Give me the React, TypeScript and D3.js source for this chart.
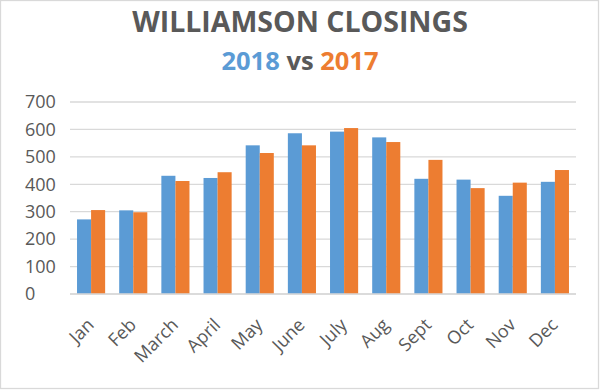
import React from "react";
import * as d3 from "d3";

const months = ["Jan", "Feb", "March", "April", "May", "June", "July", "Aug", "Sept", "Oct", "Nov", "Dec"];
const series = ["2018", "2017"];
const values2018 = [272, 305, 431, 423, 542, 586, 592, 571, 420, 417, 358, 409];
const values2017 = [306, 298, 412, 444, 514, 542, 605, 554, 489, 386, 406, 452];
const yTicks = [0, 100, 200, 300, 400, 500, 600, 700];
const colors = ["#5B9BD5", "#ED7D31"];

const W = 600;
const H = 390;
const FONT = "'Open Sans', sans-serif";
const TEXT = "#595959";
const GRID = "#D9D9D9";

export default function App() {
  const x0 = d3.scaleBand<string>().domain(months).range([70, 576]).paddingInner(0).paddingOuter(0);
  const x1 = d3
    .scaleBand<string>()
    .domain(series)
    .range([0, x0.bandwidth()])
    .paddingInner(0)
    .paddingOuter(0.5);
  const y = d3.scaleLinear().domain([0, 700]).range([294, 102]);
  const data = [values2018, values2017];

  return (
    <svg
      width={W}
      height={H}
      style={{ position: "absolute", left: 0, top: 0, background: "#fff" }}
      fontFamily={FONT}
    >
      <rect x={0.5} y={0.5} width={598} height={388} fill="#fff" stroke={GRID} strokeWidth={1.3} />
      <text x={300} y={32} textAnchor="middle" fontSize={28.5} fontWeight="bold" fill={TEXT}>
        WILLIAMSON CLOSINGS
      </text>
      <text x={300} y={69.5} textAnchor="middle" fontSize={25.5} fontWeight="bold" fill={TEXT}>
        <tspan fill={colors[0]}>{series[0]}</tspan>
        <tspan> vs </tspan>
        <tspan fill={colors[1]}>{series[1]}</tspan>
      </text>
      {yTicks.map((t) => (
        <g key={t}>
          <line x1={70} x2={576} y1={y(t)} y2={y(t)} stroke={GRID} strokeWidth={1.3} />
          <text x={25} y={y(t) + 1.5} dominantBaseline="middle" fontSize={18} fill={TEXT}>
            {t}
          </text>
        </g>
      ))}
      {months.map((m, i) => (
        <g key={m} transform={`translate(${x0(m)},0)`}>
          {series.map((s, j) => (
            <rect
              key={s}
              x={x1(s)}
              width={x1.bandwidth()}
              y={y(data[j][i])}
              height={y(0) - y(data[j][i])}
              fill={colors[j]}
            />
          ))}
        </g>
      ))}
      <line x1={70} x2={576} y1={y(0)} y2={y(0)} stroke={GRID} strokeWidth={1.3} />
      {months.map((m) => {
        const cx = (x0(m) as number) + x0.bandwidth() / 2;
        return (
          <text
            key={m}
            transform={`translate(${cx + 4},${326}) rotate(-45)`}
            textAnchor="end"
            fontSize={18}
            fill={TEXT}
          >
            {m}
          </text>
        );
      })}
    </svg>
  );
}
